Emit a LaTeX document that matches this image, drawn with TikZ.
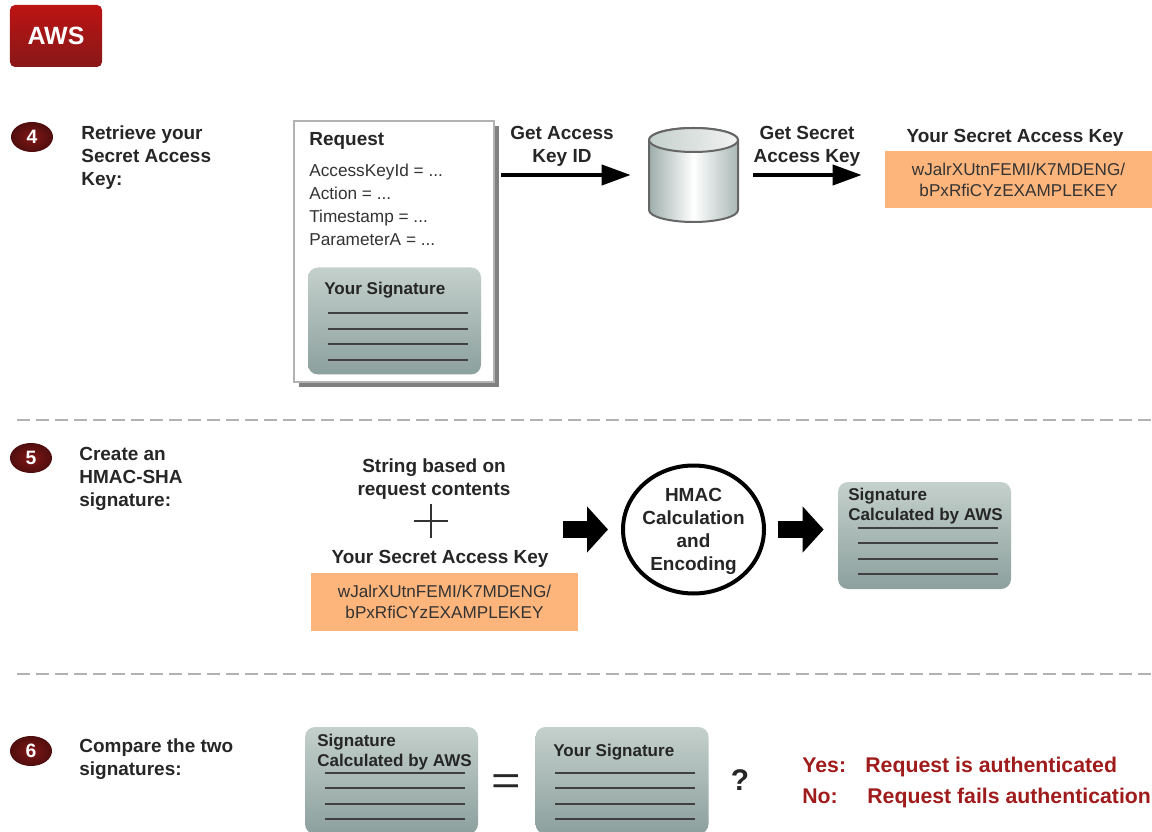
\documentclass[tikz,border=0pt]{standalone}
\usepackage{fontspec}
\setmainfont{Liberation Sans}
\usetikzlibrary{arrows.meta,calc,shapes.geometric,shadows}

\definecolor{awsred}{HTML}{A01C1C}
\definecolor{keyfill}{HTML}{FDB57C}
\definecolor{cardtop}{HTML}{C4D0CC}
\definecolor{cardbot}{HTML}{8CA09D}

\tikzset{
	head/.style={font=\bfseries\fontsize{10.8}{13.1}\selectfont,inner sep=0pt,align=center,text=black!85},
	steptext/.style={head,anchor=west,align=left},
	bodytext/.style={font=\fontsize{9.8}{13.1}\selectfont,inner sep=0pt,anchor=west,align=left,text=black!80},
	cardtext/.style={font=\bfseries\fontsize{9.7}{11.6}\selectfont,inner sep=0pt,anchor=west,align=left,text=black!85},
	badge/.style={shape=ellipse,minimum width=0.84cm,minimum height=0.6cm,inner sep=0pt,inner color=awsred!80!black,outer color=awsred!50!black,text=white,font=\bfseries\fontsize{11}{12}\selectfont},
	card/.style={shape=rectangle,rounded corners=0.2cm,minimum width=3.46cm,minimum height=2.14cm,inner sep=0pt,top color=cardtop,bottom color=cardbot},
	cardline/.style={draw=black!75,line width=0.035cm},
	keybox/.style={shape=rectangle,fill=keyfill,minimum width=5.34cm,minimum height=1.15cm,inner sep=0pt,align=center,font=\fontsize{9.75}{11.9}\selectfont,text=black!80},
	slimarrow/.style={-{Triangle[length=0.58cm,width=0.4cm]},line width=0.08cm,black},
	fatarrow/.style={-{Triangle[length=0.42cm,width=0.9cm]},line width=0.34cm,black},
	divider/.style={draw=black!30,line width=0.05cm,dash pattern=on 0.26cm off 0.12cm},
	verdict/.style={font=\bfseries\fontsize{12.1}{14}\selectfont,text=awsred,inner sep=0pt,anchor=base west},
}

\newcommand{\sigcard}[3]{
	\node[card] (#1) at (#2, #3) {};
	\foreach \y in {-0.92,-1.23,-1.54,-1.85}
		\draw[cardline] ($(#1.north west)+(0.4,\y)$) -- ($(#1.north west)+(3.2,\y)$);
}

\begin{document}
\begin{tikzpicture}
	
	\useasboundingbox (0, 0) rectangle (23.04, 16.62);
	
	\node[shape=rectangle,rounded corners=0.1cm,minimum width=1.84cm,minimum height=1.24cm,top color=awsred!70!red,bottom color=awsred!85!black,text=white,font=\bfseries\fontsize{14.2}{16}\selectfont] (aws) at (1.12, 15.9) {AWS};
	
	\node[badge] (four) at (0.64, 13.88) {4};
	\node[steptext] (fourtext) at (1.62, 13.46) {Retrieve your\\Secret Access\\Key:};
	
	\node[shape=rectangle,draw=black!30,line width=0.04cm,fill=white,minimum width=4cm,minimum height=5.22cm,general shadow={fill=black!50,shadow xshift=0.1cm,shadow yshift=-0.1cm}] (request) at (7.88, 11.59) {};
	\node[steptext] (requesttitle) at (6.18, 13.8) {Request};
	\node[bodytext] (requestbody) at (6.18, 12.53) {AccessKeyId = ...\\Action = ...\\Timestamp = ...\\ParameterA = ...};
	\sigcard{sigreq}{7.89}{10.2}
	\node[cardtext] (sigreqtext) at (6.48, 10.82) {Your Signature};
	
	\node[minimum width=1.78cm,minimum height=1.88cm,inner sep=0pt] (cyl) at (13.87, 13.12) {};
	\draw[draw=black!60,line width=0.04cm,left color=cardbot!85,right color=cardbot!75,middle color=white] (12.98, 13.82) -- (12.98, 12.42) arc[start angle=180,end angle=360,x radius=0.89,y radius=0.24] -- (14.76, 13.82) arc[start angle=0,end angle=180,x radius=0.89,y radius=0.24] -- cycle;
	\draw[draw=black!60,line width=0.04cm,left color=cardtop,right color=black!5] (13.87, 13.82) ellipse[x radius=0.89,y radius=0.24];
	
	\node[keybox] (key) at (20.37, 13.03) {wJalrXUtnFEMI/K7MDENG/\\bPxRfiCYzEXAMPLEKEY};
	\node[head] (keytitle) at (20.3, 13.87) {Your Secret Access Key};
	\node[head] (getid) at (11.24, 13.7) {Get Access\\Key ID};
	\node[head] (getsecret) at (16.14, 13.7) {Get Secret\\Access Key};
	
	\path[slimarrow,shorten <=0.12cm,shorten >=0.36cm] (request.east |- cyl.center) edge (cyl.west);
	\path[slimarrow,shorten <=0.3cm,shorten >=0.46cm] (cyl.east) edge (key.west |- cyl.center);
	
	\coordinate (dashaleft) at (0.34, 8.22);
	\coordinate (dasharight) at (23.04, 8.22);
	\coordinate (dashbleft) at (0.34, 3.14);
	\coordinate (dashbright) at (23.04, 3.14);
	\draw[divider] (dashaleft) -- (dasharight);
	\draw[divider] (dashbleft) -- (dashbright);
	
	\node[badge] (five) at (0.62, 7.46) {5};
	\node[steptext] (fivetext) at (1.58, 7.04) {Create an\\HMAC-SHA\\signature:};
	
	\node[head] (contents) at (8.68, 7.03) {String based on\\request contents};
	\coordinate (plustop) at (8.62, 6.54);
	\coordinate (plusbot) at (8.62, 5.86);
	\coordinate (plusleft) at (8.28, 6.2);
	\coordinate (plusright) at (8.96, 6.2);
	\draw[black!80,line width=0.03cm] (plustop) -- (plusbot);
	\draw[black!80,line width=0.03cm] (plusleft) -- (plusright);
	\node[head] (keytitleb) at (8.8, 5.44) {Your Secret Access Key};
	\node[keybox] (keyb) at (8.89, 4.58) {wJalrXUtnFEMI/K7MDENG/\\bPxRfiCYzEXAMPLEKEY};
	
	\node[shape=ellipse,draw=black,line width=0.08cm,fill=white,minimum width=2.82cm,minimum height=2.56cm,inner sep=0pt] (hmac) at (13.87, 6.03) {};
	\node[head] (hmactext) at (13.87, 5.99) {HMAC\\Calculation\\and\\Encoding};
	\sigcard{sigaws}{18.49}{5.91}
	\node[cardtext] (sigawstext) at (16.96, 6.5) {Signature\\Calculated by AWS};
	
	\path[fatarrow,shorten <=-0.3cm,shorten >=0.26cm] (keyb.east |- hmac.west) edge (hmac.west);
	\path[fatarrow,shorten <=0.24cm,shorten >=0.28cm] (hmac.east) edge (sigaws.west |- hmac.east);
	
	\node[badge] (six) at (0.62, 1.6) {6};
	\node[steptext] (sixtext) at (1.58, 1.43) {Compare the two\\signatures:};
	
	\sigcard{sigleft}{7.83}{1.01}
	\node[cardtext] (siglefttext) at (6.34, 1.58) {Signature\\Calculated by AWS};
	\sigcard{sigright}{12.44}{1.01}
	\node[cardtext] (sigrighttext) at (11.06, 1.58) {Your Signature};
	\node[inner sep=0pt,font=\fontsize{23}{25}\selectfont,text=black!85,transform shape,xscale=1.25] (equals) at (10.12, 0.92) {=};
	\node[inner sep=0pt,font=\bfseries\fontsize{17}{20}\selectfont,text=black!85] (question) at (14.8, 1.02) {?};
	
	\node[verdict] (yes) at (16.04, 1.18) {Yes:};
	\node[verdict] (yestext) at (17.3, 1.18) {Request is authenticated};
	\node[verdict] (no) at (16.04, 0.56) {No:};
	\node[verdict] (notext) at (17.34, 0.56) {Request fails authentication};
	
	\end{tikzpicture}
\end{document}
